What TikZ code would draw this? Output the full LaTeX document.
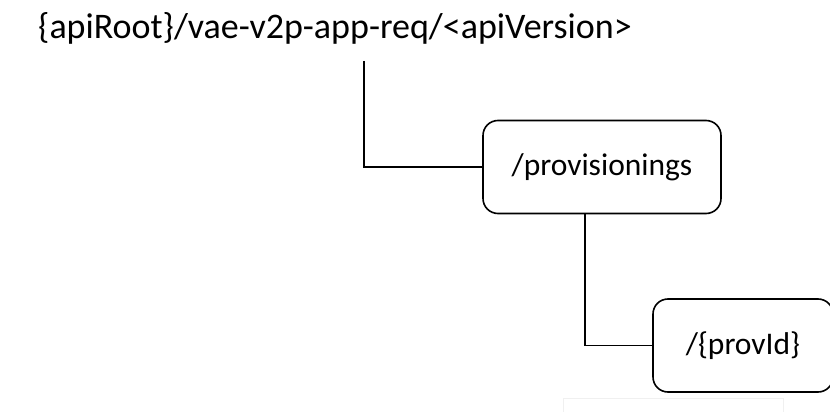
\documentclass[tikz,border=0pt]{standalone}
\usepackage{fontspec}
\setmainfont{Carlito}
\usepackage{tikz}
\usetikzlibrary{positioning, calc}

\begin{document}
\begin{tikzpicture}[
		x=1pt, y=-1pt,
		resbox/.style={rectangle, draw, line width=1.6pt, rounded corners=15pt, minimum height=93pt, align=center, font=\fontsize{31.5}{36}\selectfont},
		branch/.style={line width=1.6pt},
		every node/.style={font=\fontsize{36}{42}\selectfont}
		]
		\useasboundingbox (0,0) rectangle (830,412);
		\clip (0,0) rectangle (830,412);

		\node[anchor=base west, inner sep=0pt] (root) at (38,39) {\{apiRoot\}/vae-v2p-app-req/<apiVersion>};
		\node[resbox, minimum width=238pt] (prov) at (602,167) {/provisionings};
		\node[resbox, minimum width=180pt] (provid) at (743,345.5) {/\{provId\}};

		\coordinate (stem) at (364,61);

		\draw[branch] (stem) |- (prov.west);
		\draw[branch] ([xshift=-17pt]prov.south) |- (provid.west);

		% faint frame left under the last box
		\draw[gray!12, line width=1pt] (563,412) -- (563,398) -- (783,398) -- (783,412);
	\end{tikzpicture}
\end{document}
